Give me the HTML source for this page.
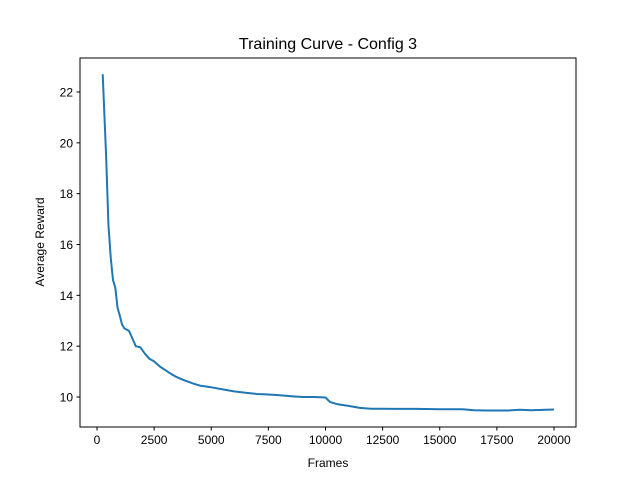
<!DOCTYPE html>
<html><head><meta charset="utf-8"><style>
body{margin:0;background:#fff;font-family:"Liberation Sans","DejaVu Sans",sans-serif;}
</style></head><body>
<svg width="640" height="480" xmlns="http://www.w3.org/2000/svg">
<rect width="640" height="480" fill="#fff"/>
<text x="328" y="49" text-anchor="middle" font-size="16">Training Curve - Config 3</text>
<g id="axes" font-size="12" fill="#000"></g>
<path id="line" fill="none" stroke="#1f77b4" stroke-width="2" stroke-linejoin="round"/>
<rect x="80" y="58" width="496" height="369" fill="none" stroke="#000" stroke-width="1"/>
<text x="328" y="467" text-anchor="middle" font-size="12">Frames</text>
<text transform="translate(44,242) rotate(-90)" text-anchor="middle" font-size="12">Average Reward</text>
</svg>
<script>
const frames=[250,400,500,600,700,800,900,1000,1100,1200,1400,1500,1700,1900,2100,2300,2500,2750,3000,3250,3500,3750,4000,4250,4500,5000,5500,6000,6500,7000,7500,8000,8500,9000,9500,10000,10200,10500,11000,11500,12000,13000,14000,15000,16000,16500,17000,18000,18500,19000,20000];
const rewards=[22.7,19.5,16.8,15.5,14.6,14.3,13.5,13.2,12.85,12.7,12.6,12.4,12.0,11.95,11.7,11.5,11.4,11.2,11.05,10.9,10.78,10.68,10.6,10.52,10.45,10.38,10.3,10.22,10.17,10.12,10.1,10.07,10.03,10.0,10.0,9.98,9.8,9.72,9.65,9.57,9.54,9.53,9.53,9.52,9.52,9.48,9.47,9.47,9.5,9.48,9.51];
const xTicks=[0,2500,5000,7500,10000,12500,15000,17500,20000];
const yTicks=[10,12,14,16,18,20,22];
const X=v=>97+(v)*457/20000;
const Y=v=>397-(v-10)*305/12;
const ns="http://www.w3.org/2000/svg";
const g=document.getElementById('axes');
xTicks.forEach(t=>{
 const l=document.createElementNS(ns,'line');
 l.setAttribute('x1',X(t));l.setAttribute('x2',X(t));l.setAttribute('y1',427);l.setAttribute('y2',430.5);l.setAttribute('stroke','#000');
 
 
 g.appendChild(l);
 const tx=document.createElementNS(ns,'text');
 tx.setAttribute('x',X(t));tx.setAttribute('y',444);tx.setAttribute('text-anchor','middle');tx.textContent=t;
 
 
 g.appendChild(tx);
});
yTicks.forEach(t=>{
 const l=document.createElementNS(ns,'line');
 l.setAttribute('x1',76.5);l.setAttribute('x2',80);l.setAttribute('y1',Y(t));l.setAttribute('y2',Y(t));l.setAttribute('stroke','#000');
 
 
 g.appendChild(l);
 const tx=document.createElementNS(ns,'text');
 tx.setAttribute('x',73);tx.setAttribute('y',Y(t)+4.5);tx.setAttribute('text-anchor','end');tx.textContent=t;
 
 
 g.appendChild(tx);
});
document.getElementById('line').setAttribute('d',frames.map((f,i)=>(i?'L':'M')+X(f).toFixed(1)+','+Y(rewards[i]).toFixed(1)).join(''));
</script>
</body></html>
